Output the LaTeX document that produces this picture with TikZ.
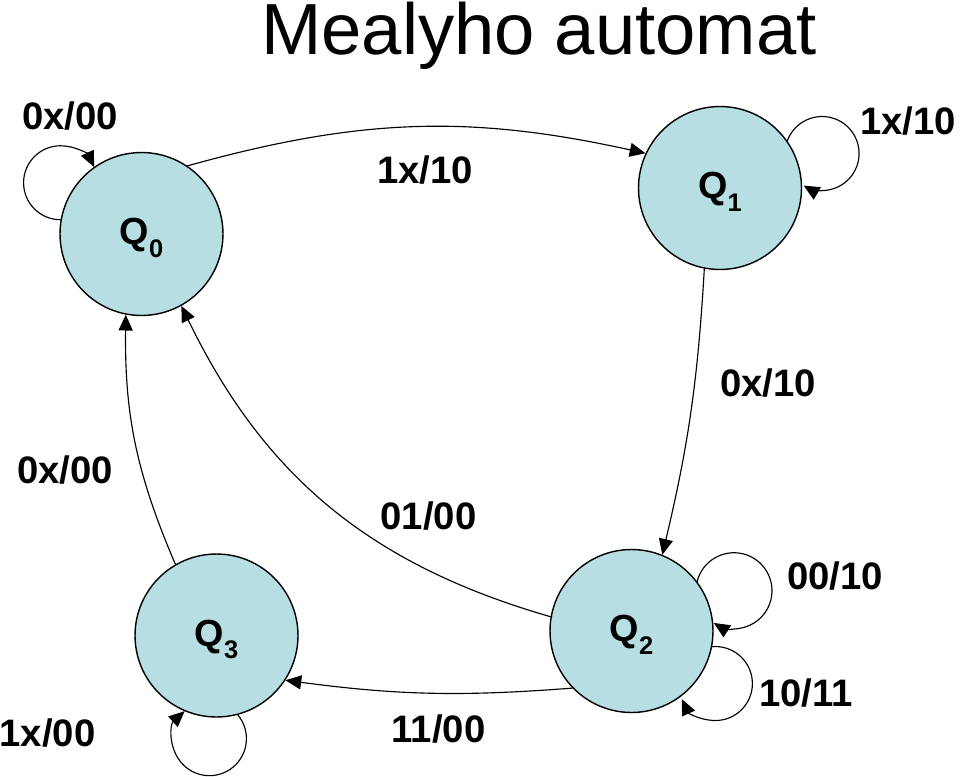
\documentclass[tikz,border=0pt]{standalone}
\usepackage{fontspec}
\setmainfont{Liberation Sans}
\usepackage{tikz}
\usetikzlibrary{arrows.meta}
\definecolor{statefill}{RGB}{183,222,226}
\tikzset{
  stnode/.style={circle,draw=black,line width=0.8pt,fill=statefill,minimum size=3.26cm,inner sep=0pt,
    text height=12.4pt,text depth=0pt,font=\bfseries\fontsize{21.5}{21}\selectfont},
  trlabel/.style={inner sep=0pt,font=\bfseries\fontsize{21.8}{22}\selectfont},
  edge/.style={->,line width=0.65pt}
}
\newcommand{\stname}[1]{Q\raisebox{-7pt}{\fontsize{14.5}{14}\selectfont #1}}

\begin{document}
\begin{tikzpicture}[line cap=round,line join=round,>={Triangle[length=9pt,width=8pt]},x=0.02cm,y=0.02cm]
	\useasboundingbox (0,0) rectangle (960,-777);
	\node[anchor=base,font=\fontsize{41.2}{42}\selectfont] (title) at (539,-55) {Mealyho automat};
	% states
	\node[stnode] (q0) at (141.5,-234) {\stname{0}};
	\node[stnode] (q1) at (720,-188) {\stname{1}};
	\node[stnode] (q2) at (631.5,-631) {\stname{2}};
	\node[stnode] (q3) at (216.5,-635.5) {\stname{3}};
	% transitions
	\draw[edge] (q0.56) to[bend left=14] (q1.155);
	\draw[edge] (q1.-101) to[bend left=5] (q2.68);
	\draw[edge] (q2.170) to[bend left=24] (q0.-61);
	\draw[edge] (q2.-136) to[bend left=6] (q3.-33);
	\draw[edge] (q3.120) to[bend left=12] (q0.-101);
	% loops
	\draw[edge] (q0.170) arc[start angle=270,end angle=25,radius=0.74cm];
	\draw[edge] (q1.35) arc[start angle=160,end angle=-120,radius=0.74cm];
	\draw[edge] (q2.37) arc[start angle=166,end angle=-122,radius=0.76cm];
	\draw[edge] (q2.-11) arc[start angle=95,end angle=-155,radius=0.74cm];
	\draw[edge] (q3.-75) arc[start angle=40,end angle=-228,radius=0.74cm];
	% labels
	\node[trlabel] (l00) at (70,-116) {0x/00};
	\node[trlabel] (l01) at (425,-170) {1x/10};
	\node[trlabel] (l11) at (908,-121) {1x/10};
	\node[trlabel] (l12) at (768,-383) {0x/10};
	\node[trlabel] (l30) at (65,-470) {0x/00};
	\node[trlabel] (l20) at (428.5,-516) {01/00};
	\node[trlabel] (l22a) at (835,-576) {00/10};
	\node[trlabel] (l22b) at (806,-693) {10/11};
	\node[trlabel] (l33) at (47.5,-733) {1x/00};
	\node[trlabel] (l23) at (438.5,-729) {11/00};
\end{tikzpicture}
\end{document}
